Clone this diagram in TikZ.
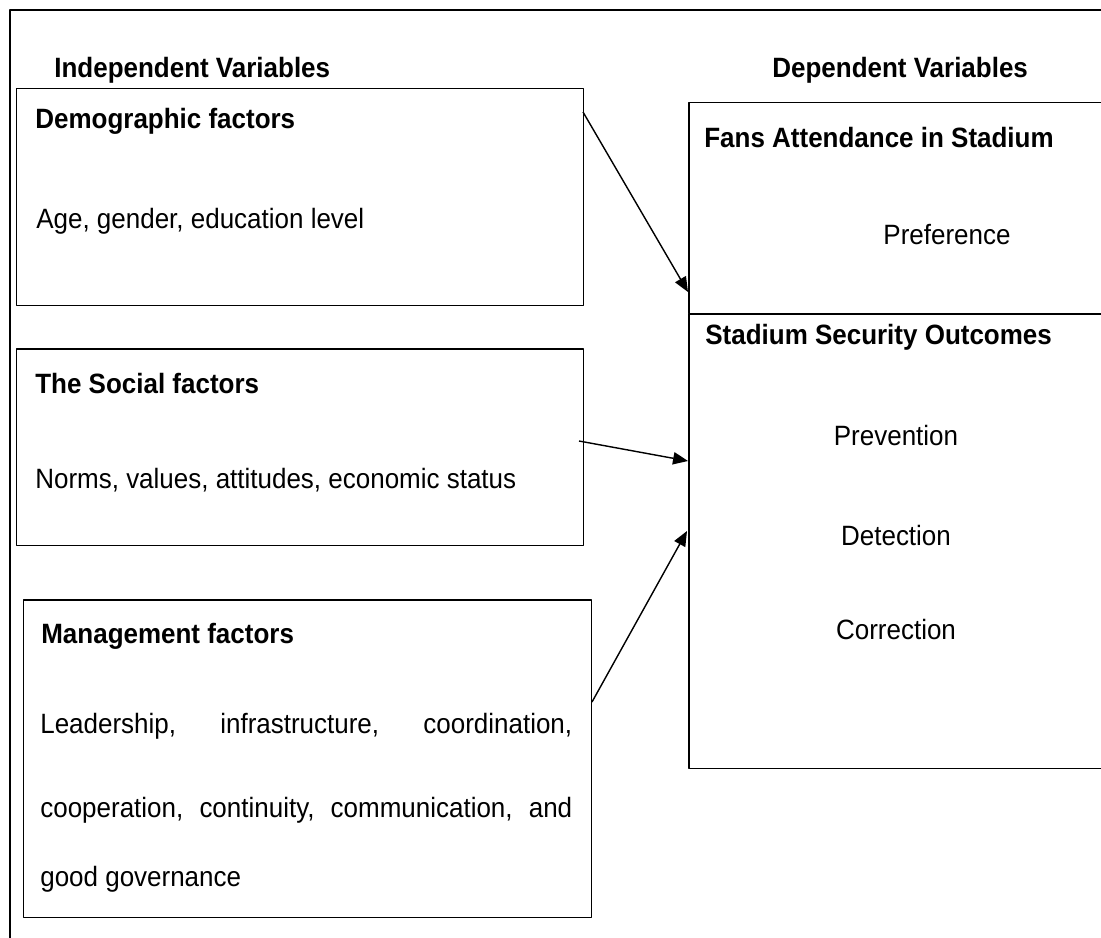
\documentclass[tikz,border=0pt]{standalone}
\usepackage{fontspec}
\setmainfont{Liberation Sans}[FakeStretch=0.93]
\usetikzlibrary{arrows.meta}

\begin{document}
\begin{tikzpicture}[line join=round,>={Triangle[length=8.5pt,width=7pt]},x=0.02cm,y=-0.02cm]
		\tikzset{every node/.style={font=\fontsize{15.9}{19}\selectfont,inner sep=0pt},
			box/.style={draw,line width=0.85pt,rectangle,anchor=north west},
			head/.style={font=\fontsize{15.9}{19}\selectfont\bfseries,anchor=base west},
			txt/.style={anchor=base west},
			link/.style={->,line width=0.8pt}}
		\useasboundingbox (0,0) rectangle (1101,937);
		\draw[line width=1.3pt] (10,10) rectangle (1130,990);
		%Cac hop ben trai
		\node[box,minimum width=11.34cm,minimum height=4.34cm] (demo) at (16,88) {};
		\node[box,minimum width=11.34cm,minimum height=3.94cm] (social) at (16,348) {};
		\node[box,minimum width=11.36cm,minimum height=6.36cm] (manage) at (23,599) {};
		%Hop ben phai
		\node[box,minimum width=8.6cm,minimum height=4.22cm] (fans) at (688,102) {};
		\node[box,minimum width=8.6cm,minimum height=9.10cm] (secur) at (688,313) {};
		\node[head] (indep) at (54,77) {Independent Variables};
		\node[head] (dep) at (772,77) {Dependent Variables};
		\node[head] (demoh) at (35,128) {Demographic factors};
		\node[txt] (demot) at (36,228) {Age, gender, education level};
		\node[head] (socialh) at (35,393) {The Social factors};
		\node[txt] (socialt) at (35,488) {Norms, values, attitudes, economic status};
		\node[head] (manageh) at (41,643) {Management factors};
		\node[txt] (manage1) at (40,733) {\makebox[10.64cm][s]{Leadership, infrastructure, coordination,}};
		\node[txt] (manage2) at (40,817) {\makebox[10.64cm][s]{cooperation, continuity, communication, and}};
		\node[txt] (manage3) at (40,886) {good governance};
		\node[head] (fansh) at (704,147) {Fans Attendance in Stadium};
		\node[anchor=base] (pref) at (947,244) {Preference};
		\node[head] (securh) at (705,344) {Stadium Security Outcomes};
		\foreach \n/\t/\y in {prev/Prevention/445,detec/Detection/545,corr/Correction/639}
		\node[anchor=base] (\n) at (896,\y) {\t};
		%Cac mui ten
		\coordinate (d1) at (583,112);
		\coordinate (d2) at (688,292);
		\coordinate (s1) at (579,441);
		\coordinate (s2) at (688,461);
		\coordinate (m1) at (592,702);
		\coordinate (m2) at (687,531);
		\draw[link] (d1)--(d2);
		\draw[link] (s1)--(s2);
		\draw[link] (m1)--(m2);
\end{tikzpicture}
\end{document}
